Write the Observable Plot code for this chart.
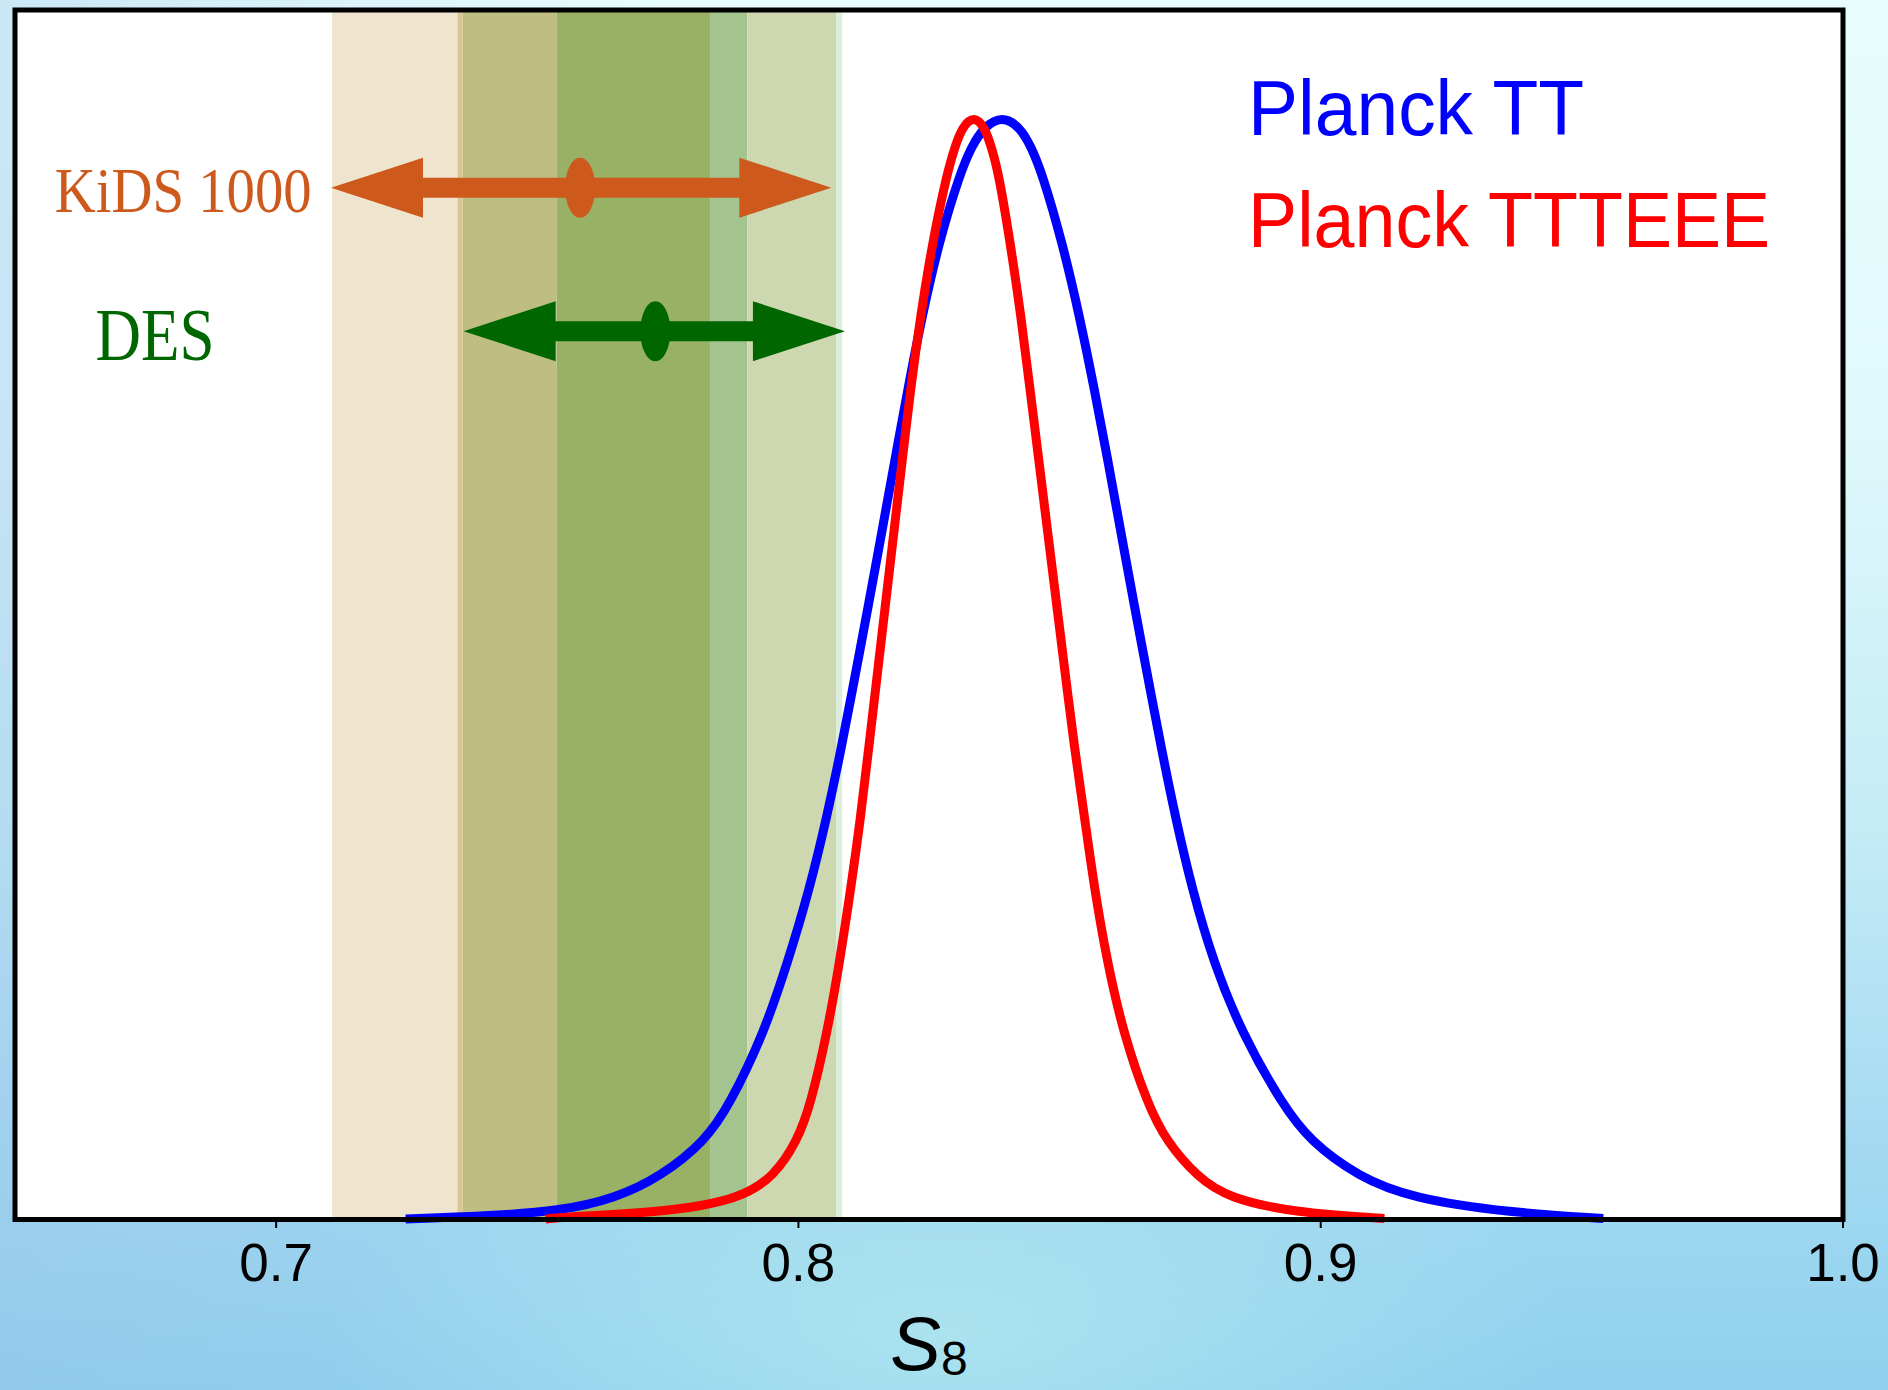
<!DOCTYPE html>
<html>
<head>
<meta charset="utf-8">
<script src="https://cdn.jsdelivr.net/npm/d3@7"></script>
<script src="https://cdn.jsdelivr.net/npm/@observablehq/plot@0.6"></script>
<style>
html, body { margin: 0; padding: 0; width: 1888px; height: 1390px; overflow: hidden; }
body {
  background:
    radial-gradient(ellipse 620px 260px at 50% 96%, rgba(178,232,238,0.75), rgba(178,232,238,0) 100%),
    linear-gradient(to right, rgba(150,190,232,0.35) 0%, rgba(150,190,232,0) 35%),
    linear-gradient(to bottom, #E8FDFD 0%, #E0F9FB 30%, #C4EBF6 60%, #A4DAF1 82%, #90D0EE 100%);
}
#chart svg { display: block; }
</style>
</head>
<body>
<div id="chart"></div>
<script>
// ---------- data ----------
// Planck TT posterior of S8 (normalised to peak = 1)
const sTT = [0.7248, 0.7400, 0.7544, 0.7650, 0.7736, 0.7822, 0.7868, 0.7934, 0.7980, 0.8021, 0.8054,
             0.8083, 0.8109, 0.8135, 0.8160, 0.8185, 0.8210, 0.8237, 0.8268, 0.8310, 0.8332, 0.8354,
             0.8390,
             0.8425, 0.8445, 0.8466, 0.8506, 0.8538, 0.8566, 0.8592, 0.8617, 0.8642, 0.8668, 0.8694,
             0.8722, 0.8754, 0.8794, 0.8849, 0.8927, 0.8979, 0.9072, 0.9174, 0.9363, 0.9541];
const pTT = [0.0005, 0.003, 0.0076, 0.0194, 0.0389, 0.0716, 0.1042, 0.1694, 0.2347, 0.300, 0.3652,
             0.4305, 0.4957, 0.561, 0.6262, 0.6915, 0.7567, 0.822, 0.8872, 0.9525, 0.976, 0.993,
             1.004,
             0.993, 0.976, 0.9525, 0.8872, 0.822, 0.7567, 0.6915, 0.6262, 0.561, 0.4957, 0.4305,
             0.3652, 0.300, 0.2347, 0.1694, 0.1042, 0.0716, 0.0389, 0.0194, 0.0062, 0.001];
// Planck TTTEEE posterior of S8
const sTE = [0.7516, 0.7544, 0.7768, 0.7889, 0.7953, 0.7998, 0.8023, 0.8055, 0.8079, 0.8100, 0.8119,
             0.8135, 0.8151, 0.8167, 0.8183, 0.8199, 0.8215, 0.8234, 0.8256, 0.8285, 0.8300, 0.8313,
             0.8336,
             0.8357, 0.8369, 0.8383, 0.8406, 0.8426, 0.8443, 0.8460, 0.8477, 0.8494, 0.8511, 0.8528,
             0.8548, 0.8567, 0.8591, 0.8622, 0.8669, 0.8704, 0.8763, 0.8823, 0.8951, 0.9122];
const pTE = [0.0005, 0.002, 0.0076, 0.0194, 0.0389, 0.0716, 0.1042, 0.1694, 0.2347, 0.300, 0.3652,
             0.4305, 0.4957, 0.561, 0.6262, 0.6915, 0.7567, 0.822, 0.8872, 0.9525, 0.976, 0.993,
             1.004,
             0.993, 0.976, 0.9525, 0.8872, 0.822, 0.7567, 0.6915, 0.6262, 0.561, 0.4957, 0.4305,
             0.3652, 0.300, 0.2347, 0.1694, 0.1042, 0.0716, 0.0389, 0.0194, 0.0062, 0.001];
const seriesNames = ["Planck TT", "Planck TTTEEE"];

// weak-lensing surveys: best fit and arrow extent in S8
const surveys   = ["KiDS 1000", "DES"];
const surveyMid = [0.7582, 0.7726];
const surveyLo  = [0.7105, 0.7359];
const surveyHi  = [0.8063, 0.8089];

// shaded band boundaries in S8
const bandEdges = [0.7108, 0.7348, 0.7358, 0.7538, 0.7833, 0.7903, 0.8073, 0.8085];

const xTicks = [0.7, 0.8, 0.9, 1.0];

// ---------- annotation placement & styles ----------
const surveyLevel  = [0.9384, 0.8079];   // arrow heights (y units)
const surveyLabelX = [0.7068, 0.6882];
const surveyLabelY = [0.9346, 0.8030];
const legendX = 0.8861;
const legendY = [1.0089, 0.9074];

const seriesColors = ["#0000FF", "#FF0000"];
const surveyColors = ["#CD5A1C", "#006600"];
const bandFills = ["#EFE5CE", "#DDC58F", "#BEBE82", "#98B165", "#A4C48F", "#CDD8B0", "#DDEEDD"];

// ---------- derived tables ----------
const tt = sTT.map((s, i) => ({s, p: pTT[i]}));
const te = sTE.map((s, i) => ({s, p: pTE[i]}));
const segs = bandEdges.slice(0, -1).map((e, i) => ({x1: e, x2: bandEdges[i + 1], i}));
const surv = surveys.map((name, i) => ({
  name, i, mid: surveyMid[i], lo: surveyLo[i], hi: surveyHi[i],
  lev: surveyLevel[i], lx: surveyLabelX[i], ly: surveyLabelY[i]
}));
const legend = seriesNames.map((name, i) => ({name, i, y: legendY[i]}));

// arrow-head and marker shapes (pixels)
const HL = 92, HH = 30;
const headR = {draw(c) { c.moveTo(0, 0); c.lineTo(-HL, -HH); c.lineTo(-HL, HH); c.closePath(); }};
const headL = {draw(c) { c.moveTo(0, 0); c.lineTo(HL, -HH); c.lineTo(HL, HH); c.closePath(); }};
const ell = {draw(c) {
  const a = 15, b = 30, k = 0.5523;
  c.moveTo(a, 0);
  c.bezierCurveTo(a, b * k, a * k, b, 0, b);
  c.bezierCurveTo(-a * k, b, -a, b * k, -a, 0);
  c.bezierCurveTo(-a, -b * k, -a * k, -b, 0, -b);
  c.bezierCurveTo(a * k, -b, a, -b * k, a, 0);
  c.closePath();
}};

const chart = Plot.plot({
  width: 1888,
  height: 1390,
  marginLeft: 14.5,
  marginRight: 45.5,
  marginTop: 9.5,
  marginBottom: 171,
  x: {domain: [0.65, 1.0]},
  y: {domain: [0, 1.1], axis: null},
  color: {type: "identity"},
  style: {background: "transparent", fontFamily: "'Liberation Sans', Arial, sans-serif", overflow: "visible"},
  marks: [
    Plot.frame({fill: "white", stroke: "none"}),
    Plot.rect(segs, {x1: "x1", x2: "x2", fill: d => bandFills[d.i]}),
    Plot.line(tt, {x: "s", y: "p", stroke: seriesColors[0], strokeWidth: 9, curve: "basis", strokeLinecap: "butt"}),
    Plot.line(te, {x: "s", y: "p", stroke: seriesColors[1], strokeWidth: 9, curve: "basis", strokeLinecap: "butt"}),
    Plot.ruleY(surv, {y: "lev", x1: "lo", x2: "hi", stroke: d => surveyColors[d.i], strokeWidth: 20, insetLeft: 80, insetRight: 80}),
    Plot.dot(surv, {x: "lo", y: "lev", symbol: headL, fill: d => surveyColors[d.i], stroke: "none"}),
    Plot.dot(surv, {x: "hi", y: "lev", symbol: headR, fill: d => surveyColors[d.i], stroke: "none"}),
    Plot.dot(surv, {x: "mid", y: "lev", symbol: ell, fill: d => surveyColors[d.i], stroke: "none"}),
    Plot.text(surv, {x: "lx", y: "ly", text: "name", textAnchor: "end", fill: d => surveyColors[d.i],
      fontFamily: "'Liberation Serif', 'DejaVu Serif', serif", fontSize: d => d.i === 0 ? 64 : 74}),
    Plot.text(legend, {x: () => legendX, y: "y", text: "name", textAnchor: "start", fill: d => seriesColors[d.i], fontSize: 78}),
    Plot.text(["S8"], {text: d => d, frameAnchor: "bottom", dy: 150, fontSize: 76, textAnchor: "middle", fill: "black"}),
    Plot.axisX({ticks: xTicks, tickFormat: d => d.toFixed(1), tickSize: 9, tickPadding: 15, fontSize: 53, strokeWidth: 2, label: null}),
    Plot.frame({stroke: "black", strokeWidth: 5})
  ]
});

document.getElementById("chart").appendChild(chart);

// text fitting and the subscripted axis label
const ns = "http://www.w3.org/2000/svg";
const lengths = {"Planck TT": 336, "Planck TTTEEE": 522, "KiDS 1000": 257, "DES": 119};
chart.querySelectorAll("text").forEach(t => {
  const s = t.textContent;
  if (lengths[s]) {
    t.setAttribute("textLength", lengths[s]);
    t.setAttribute("lengthAdjust", "spacingAndGlyphs");
  }
  if (s === "S8") {
    t.textContent = "";
    const a = document.createElementNS(ns, "tspan");
    a.setAttribute("font-style", "italic");
    a.textContent = "S";
    const b = document.createElementNS(ns, "tspan");
    b.setAttribute("font-size", "48");
    b.setAttribute("dy", "5");
    b.textContent = "8";
    t.appendChild(a);
    t.appendChild(b);
  }
});
</script>
</body>
</html>
